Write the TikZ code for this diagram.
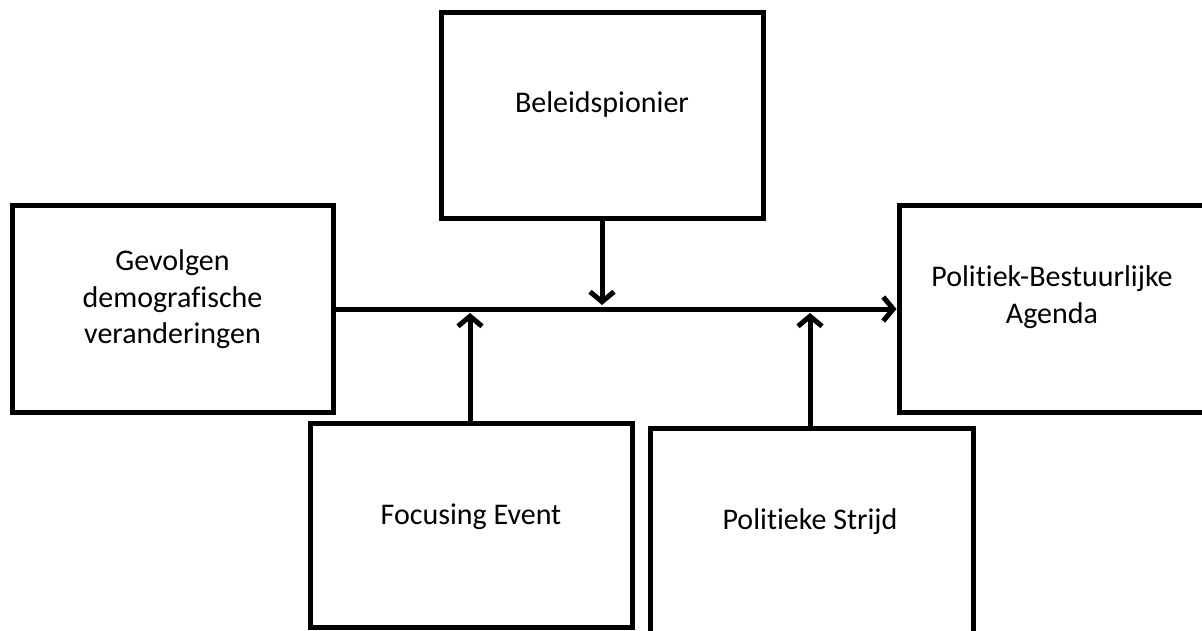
\documentclass[tikz,border=0pt]{standalone}
\usepackage{fontspec}
\setmainfont[Ligatures={NoCommon}]{Carlito}
\usepackage{tikz}
\usetikzlibrary{arrows.meta}
\usetikzlibrary{calc}
\tikzset{
    blok/.style={draw, line width=5pt, rectangle, inner sep=0pt},
    tekst/.style={align=center, anchor=base, font=\fontsize{30}{36.5}\selectfont},
    pijl/.style={line width=5pt, -{Straight Barb[length=10pt,width=24pt]}}
}

\begin{document}
\begin{tikzpicture}[x=1pt,y=-1pt]
\useasboundingbox (0,0) rectangle (1202,631);
\foreach \x/\y/\w/\h/\p in {602/116/322/206/beleid, 172.5/309/321/206/gevolgen, 1064/309/330/206/agenda, 471/525/322/204/focus, 811.5/531/323/206/strijd}{
    \node[blok, minimum width=\w pt, minimum height=\h pt] (\p) at (\x,\y) {};
}
% baseline of the last line
\foreach \x/\y/\p/\labeltext in {602/113/beleidT/{Beleidspionier}, 172.5/343.5/gevolgenT/{Gevolgen\\demografische\\veranderingen}, 1052/323/agendaT/{Politiek-Bestuurlijke\\Agenda}, 471/524/focusT/{Focusing Event}, 810/529/strijdT/{Politieke Strijd}}{
    \node[tekst] (\p) at (\x,\y) {\labeltext};
}
\coordinate (m1) at (beleid.south |- 0,305);
\coordinate (m2) at (470,313);
\coordinate (m3) at (810,313);
\draw[pijl] (gevolgen.east) -- (agenda.west);
\draw[pijl] (beleid.south) -- (m1);
\draw[pijl] (focus.north -| m2) -- (m2);
\draw[pijl] (strijd.north -| m3) -- (m3);
\end{tikzpicture}
\end{document}
